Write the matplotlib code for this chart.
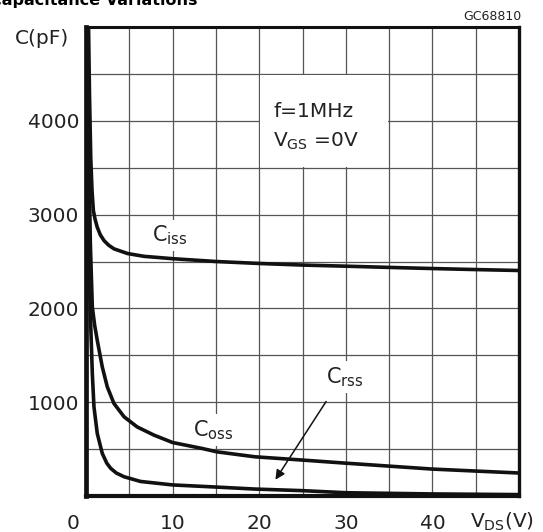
import matplotlib.pyplot as plt
from matplotlib.patches import Rectangle
import matplotlib.transforms as mtransforms

# values (V_DS in V, C in pF)
ciss_v = [0.25, 0.4, 0.55, 0.7, 0.85, 1.05, 1.3, 1.65, 2.08, 2.6, 3.23, 4.8, 6.7, 10, 15, 20, 25, 30, 35, 40, 45, 50]
ciss_c = [5300, 4300, 3600, 3250, 3043, 2950, 2865, 2785, 2723, 2675, 2635, 2585, 2555, 2530, 2500, 2479, 2462, 2450, 2437, 2425, 2414, 2404]

coss_v = [0.12, 0.3, 0.5, 0.73, 1.0, 1.3, 1.88, 2.46, 3.23, 4.4, 5.9, 7.85, 10, 13.4, 15.1, 19.5, 25, 30, 40, 50]
coss_c = [5300, 3800, 2700, 2014, 1820, 1660, 1376, 1163, 986, 844, 737, 649, 570, 507, 471, 418, 383, 350, 287, 245]

crss_v = [0.08, 0.2, 0.35, 0.54, 0.73, 0.92, 1.3, 1.88, 2.4, 2.85, 3.5, 4.4, 6.3, 10, 15.1, 19.5, 25, 30, 40, 50]
crss_c = [5300, 3600, 2500, 1837, 1305, 950, 667, 454, 350, 295, 245, 205, 155, 118, 95, 74, 57, 35, 22, 15]

x_ticks = [0, 5, 10, 15, 20, 25, 30, 35, 40, 45, 50]
x_labels = ["0", "", "10", "", "20", "", "30", "", "40", "", ""]
y_ticks = [0, 500, 1000, 1500, 2000, 2500, 3000, 3500, 4000, 4500, 5000]
y_labels = ["", "", "1000", "", "2000", "", "3000", "", "4000", "", ""]

fig = plt.figure(figsize=(5.43, 5.32), dpi=100)
ax = fig.add_axes([86/543, 1-496/532, 433/543, 469/532])

ax.set_xlim(0, 50)
ax.set_ylim(0, 5000)
ax.set_xticks(x_ticks)
ax.set_xticklabels(x_labels)
ax.set_yticks(y_ticks)
ax.set_yticklabels(y_labels)
ax.tick_params(length=0, labelsize=14.5, colors="#222222")
ax.tick_params(axis="x", pad=13)
ax.tick_params(axis="y", pad=5)
# the "0" sits a bit left of the axis
lbl0 = ax.get_xticklabels()[0]
lbl0.set_transform(lbl0.get_transform() + mtransforms.ScaledTranslation(-13/100, 0, fig.dpi_scale_trans))

ax.set_axisbelow(True)
ax.grid(True, color="#555555", lw=0.9)
for side, w in [("left", 3.4), ("bottom", 3.0), ("top", 2.2), ("right", 2.4)]:
    ax.spines[side].set_linewidth(w)
    ax.spines[side].set_color("#111111")

# white patch behind the test-condition text
ax.add_patch(Rectangle((20.15, 3510), 14.7, 980, facecolor="white", edgecolor="none", zorder=1))
ax.text(21.6, 4096, "f=1MHz", fontsize=14.5, va="center", ha="left", color="#222222", zorder=3)
ax.text(21.6, 3780, r"V$_{\mathregular{GS}}$ =0V", fontsize=14.5, va="center", ha="left", color="#222222", zorder=3)

for v, c in [(ciss_v, ciss_c), (coss_v, coss_c), (crss_v, crss_c)]:
    ax.plot(v, c, color="#111111", lw=2.6, solid_capstyle="butt", solid_joinstyle="round", zorder=4)

box = dict(facecolor="white", edgecolor="none", pad=3)
ax.text(9.7, 2777, r"C$_{\mathregular{iss}}$", fontsize=15, ha="center", va="center", color="#222222", bbox=box, zorder=3)
ax.text(14.7, 702, r"C$_{\mathregular{oss}}$", fontsize=15, ha="center", va="center", color="#222222", bbox=box, zorder=3)
ax.text(29.9, 1266, r"C$_{\mathregular{rss}}$", fontsize=15, ha="center", va="center", color="#222222", bbox=box, zorder=3)
ax.annotate("", xy=(21.7, 149), xytext=(27.9, 1032),
            arrowprops=dict(arrowstyle="-|>", color="#111111", lw=1.1, mutation_scale=14), zorder=5)

fig.text(15/543, 1-38/532, "C(pF)", fontsize=14.5, va="center", ha="left", color="#222222")
fig.text(502/543, 1-522/532, r"V$_{\mathregular{DS}}$(V)", fontsize=14.5, va="center", ha="center", color="#222222")
fig.text(521/543, 1-17/532, "GC68810", fontsize=9, va="center", ha="right", color="#222222")
fig.text(-10/543, 1-5/532, "Capacitance Variations", fontsize=11.5, fontweight="bold", va="baseline", ha="left")

fig.savefig("out.png", dpi=100)
